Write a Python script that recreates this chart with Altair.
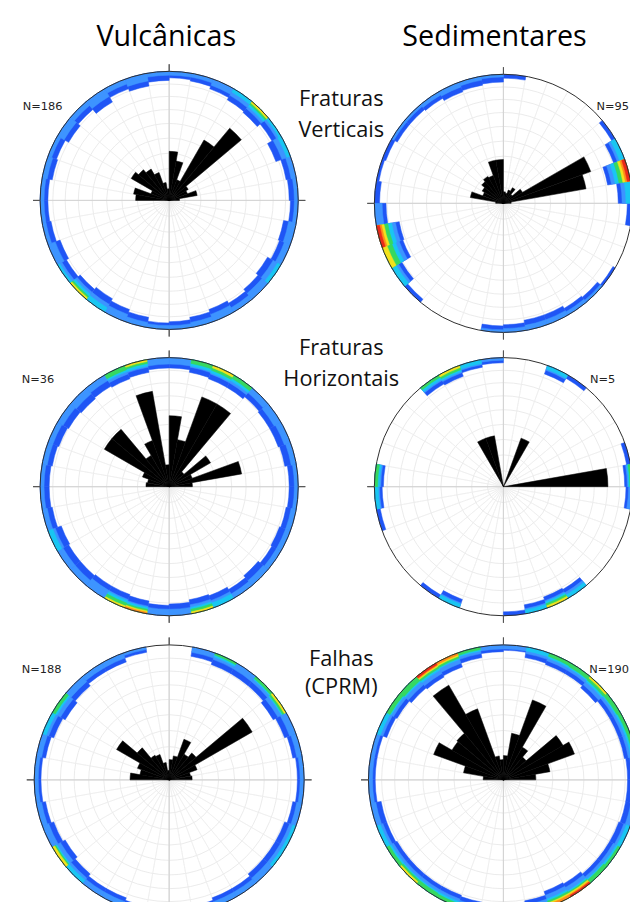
import math
import altair as alt
import pandas as pd

# ------------------------------------------------------------------
# Data
# ------------------------------------------------------------------
PANELS = ["vulc_fv", "sed_fv", "vulc_fh", "sed_fh", "vulc_fa", "sed_fa"]
N_LABELS = ["N=186", "N=95", "N=36", "N=5", "N=188", "N=190"]
COLUMN_TITLES = ["Vulcânicas", "Sedimentares"]
ROW_TITLES = ["Fraturas", "Verticais", "Fraturas", "Horizontais", "Falhas", "(CPRM)"]

# rose diagram: 10-degree strike bins (azimuth, clockwise from N), length in % of net radius
ROSE_BINS = [270, 280, 290, 300, 310, 320, 330, 340, 350, 0, 10, 20, 30, 40, 50, 60, 70, 80]
ROSE_VULC_FV = [26, 28, 15, 34, 31, 28, 23, 14, 9, 38, 31, 17, 54, 73, 17, 15, 22, 8]
ROSE_SED_FV = [6, 26, 17, 19, 22, 24, 23, 34, 34, 9, 8, 11, 14, 9, 17, 72, 65, 6]
ROSE_VULC_FH = [18, 17, 22, 58, 58, 28, 38, 75, 17, 55, 37, 74, 74, 15, 37, 19, 57, 18]
ROSE_SED_FH = [0, 0, 0, 0, 0, 0, 40, 40, 0, 0, 0, 40, 0, 0, 0, 0, 0, 81]
ROSE_VULC_FA = [29, 22, 25, 45, 31, 21, 20, 13, 7, 15, 18, 32, 22, 26, 71, 22, 16, 17]
ROSE_SED_FA = [15, 30, 55, 44, 45, 81, 56, 18, 15, 18, 35, 63, 28, 22, 51, 56, 35, 24]

# pole-density contours at the primitive: 10-degree azimuth bins, band depth in % of radius
RIM_BINS = [0, 10, 20, 30, 40, 50, 60, 70, 80, 90, 100, 110, 120, 130, 140, 150, 160, 170,
            180, 190, 200, 210, 220, 230, 240, 250, 260, 270, 280, 290, 300, 310, 320, 330, 340, 350]
BLUE_VULC_FV = [5, 6, 8, 10, 11, 8, 12, 8, 7, 6, 10, 9, 12, 10, 8, 10, 8, 6, 5, 8, 10, 12, 10, 8, 10, 7, 6, 6, 8, 7, 10, 8, 12, 8, 10, 7]
LIGHT_VULC_FV = [3, 3, 5, 6, 7, 4, 7, 4, 3, 3, 6, 5, 7, 6, 4, 6, 4, 3, 3, 4, 6, 7, 7, 4, 6, 3, 3, 3, 4, 3, 6, 4, 7, 4, 6, 3]
BLUE_SED_FV = [3, 0, 0, 0, 0, 3, 9, 18, 11, 4, 0, 0, 2, 5, 6, 8, 8, 6, 5, 0, 0, 0, 3, 9, 17, 18, 9, 4, 2, 3, 5, 5, 6, 8, 7, 6]
LIGHT_SED_FV = [0, 0, 0, 0, 0, 0, 6, 15, 8, 0, 0, 0, 0, 2, 3, 4, 4, 3, 2, 0, 0, 0, 0, 6, 14, 15, 6, 0, 0, 0, 2, 2, 3, 4, 3, 2]
BLUE_VULC_FH = [8, 10, 11, 11, 9, 10, 10, 9, 7, 7, 8, 9, 8, 10, 8, 10, 11, 9, 8, 10, 11, 11, 10, 10, 11, 8, 7, 7, 8, 9, 10, 11, 10, 11, 10, 8]
LIGHT_VULC_FH = [5, 6, 7, 7, 5, 6, 5, 4, 3, 3, 4, 4, 4, 5, 4, 6, 7, 5, 5, 6, 7, 7, 5, 5, 6, 4, 3, 3, 4, 4, 5, 6, 5, 7, 6, 5]
BLUE_SED_FH = [0, 0, 7, 3, 0, 0, 0, 3, 6, 5, 0, 0, 0, 0, 8, 9, 7, 3, 0, 0, 7, 3, 0, 0, 0, 3, 6, 7, 0, 0, 0, 0, 8, 9, 6, 4]
LIGHT_SED_FH = [0, 0, 4, 0, 0, 0, 0, 0, 4, 3, 0, 0, 0, 0, 5, 6, 4, 0, 0, 0, 4, 0, 0, 0, 0, 0, 4, 5, 0, 0, 0, 0, 5, 6, 4, 2]
BLUE_VULC_FA = [0, 7, 9, 9, 9, 11, 9, 7, 5, 5, 7, 9, 9, 9, 7, 7, 5, 0, 0, 5, 7, 7, 9, 11, 9, 7, 5, 5, 7, 9, 11, 9, 7, 7, 4, 0]
LIGHT_VULC_FA = [0, 4, 5, 5, 5, 7, 5, 4, 3, 3, 4, 5, 5, 5, 4, 4, 3, 0, 0, 3, 4, 4, 5, 7, 5, 4, 3, 3, 4, 5, 7, 5, 4, 4, 2, 0]
BLUE_SED_FA = [4, 8, 9, 9, 11, 9, 9, 9, 8, 8, 8, 9, 9, 9, 11, 12, 9, 8, 5, 8, 9, 9, 9, 9, 8, 8, 5, 5, 5, 8, 9, 11, 12, 11, 8, 5]
LIGHT_SED_FA = [3, 5, 6, 6, 8, 6, 6, 6, 5, 4, 4, 5, 6, 6, 8, 9, 6, 5, 3, 5, 6, 6, 6, 6, 5, 4, 3, 3, 3, 5, 6, 8, 9, 8, 5, 3]

# higher density levels (3 cyan ... 7 red): {level: {azimuth bin: depth %}}
HOT_VULC_FV = {3: {30: 3, 40: 5, 50: 2, 60: 3, 120: 3, 210: 4, 220: 5, 230: 2},
               4: {40: 3, 220: 3}, 5: {40: 1.5, 220: 1.5}}
HOT_SED_FV = {3: {60: 4, 70: 12, 80: 5, 230: 4, 240: 11, 250: 12},
              4: {70: 9, 240: 8, 250: 9}, 5: {70: 6, 240: 4, 250: 6},
              6: {70: 4, 250: 4}, 7: {70: 2.5, 250: 2.5}}
HOT_VULC_FH = {3: {10: 5, 20: 6, 30: 5, 150: 4, 160: 5, 190: 5, 200: 6, 240: 4, 330: 5, 340: 5},
               4: {10: 3, 20: 4, 30: 3, 160: 3.5, 190: 3.5, 200: 4, 330: 3.5, 340: 3},
               5: {20: 2, 160: 1.5, 190: 2.2, 200: 1.5, 340: 1.5}, 6: {190: 1.2}}
HOT_SED_FH = {3: {20: 3, 80: 3, 140: 3, 150: 5, 160: 3, 200: 3, 260: 3, 270: 4, 320: 4, 330: 5, 340: 3},
              4: {80: 2, 150: 3.5, 270: 2.5, 320: 2, 330: 3.5}, 5: {150: 1.8, 330: 1.8}}
HOT_VULC_FA = {3: {20: 3, 40: 3, 50: 4, 110: 2.5, 120: 2.5, 220: 3, 230: 4, 290: 3, 300: 4},
               4: {20: 1.5, 40: 2, 50: 3, 230: 3, 300: 2.5}, 5: {50: 1.5, 230: 2}}
HOT_SED_FA = {3: {10: 3, 20: 4, 30: 4, 40: 5, 50: 4, 60: 4, 70: 4, 80: 3, 110: 3, 120: 3.5, 130: 4,
                  140: 5, 150: 6, 160: 4, 190: 3, 200: 4, 210: 4, 220: 4, 230: 4, 240: 3, 290: 3,
                  300: 4, 310: 5, 320: 6, 330: 5, 340: 3},
              4: {20: 2.5, 30: 3, 40: 3.5, 50: 3, 60: 2.5, 70: 2.5, 120: 2, 130: 3, 140: 4, 150: 4.5,
                  160: 2.5, 200: 2.5, 210: 3, 220: 3, 230: 2.5, 300: 3, 310: 4, 320: 4.5, 330: 4, 340: 2},
              5: {40: 1.5, 140: 3, 150: 3, 220: 1.5, 320: 3, 330: 2.5},
              6: {140: 2, 150: 2, 320: 2.2, 330: 1.5}, 7: {140: 1.2, 320: 1.5}}

ROSE = dict(zip(PANELS, [ROSE_VULC_FV, ROSE_SED_FV, ROSE_VULC_FH, ROSE_SED_FH, ROSE_VULC_FA, ROSE_SED_FA]))
BLUE = dict(zip(PANELS, [BLUE_VULC_FV, BLUE_SED_FV, BLUE_VULC_FH, BLUE_SED_FH, BLUE_VULC_FA, BLUE_SED_FA]))
LIGHT = dict(zip(PANELS, [LIGHT_VULC_FV, LIGHT_SED_FV, LIGHT_VULC_FH, LIGHT_SED_FH, LIGHT_VULC_FA, LIGHT_SED_FA]))
HOT = dict(zip(PANELS, [HOT_VULC_FV, HOT_SED_FV, HOT_VULC_FH, HOT_SED_FH, HOT_VULC_FA, HOT_SED_FA]))

# ------------------------------------------------------------------
# Layout / style (page pixel space; the page has an 8px margin)
# ------------------------------------------------------------------
W, H = 629, 899
M = 8
PANEL_POS = {
    "vulc_fv": (171, 197.5, "top"), "sed_fv": (509, 200.5, "top"),
    "vulc_fh": (171, 487, "top"), "sed_fh": (509, 487, "top"),
    "vulc_fa": (171, 783.5, "bottom"), "sed_fa": (509, 783.5, "bottom"),
}
RADIUS_PX = {"top": 130.5, "bottom": 136.5}
GRID_RADII = [12.3, 24.6, 36.6, 48.3, 59.6, 70.4, 80.6, 90.2]
GRID_SPOKES = list(range(0, 360, 10))
CARDINALS = [0, 90, 180, 270]
LEVELS = [1, 2, 3, 4, 5, 6, 7]
LEVEL_COLORS = ["#1f55f5", "#3d94ff", "#19c6f2", "#36d860", "#f2e21c", "#ff8c1a", "#ea2a1a"]

XS = alt.Scale(domain=[M, M + W], nice=False, zero=False)
YS = alt.Scale(domain=[M, M + H], reverse=True, nice=False, zero=False)
TS = alt.Scale(type="linear", domain=[0, 360], range=[0, 2 * math.pi], nice=False, zero=False)
FS = alt.Scale(domain=LEVELS, range=LEVEL_COLORS)


def base_row(p):
    cx, cy, g = PANEL_POS[p]
    return dict(panel=p, cx=cx, cy=cy, grp=g)


petal_rows, band_rows, circ_rows, spoke_rows, axis_rows, ring_rows, tick_rows = [], [], [], [], [], [], []
for p in PANELS:
    b0 = base_row(p)
    for b, L in zip(ROSE_BINS, ROSE[p]):
        if L > 0:
            petal_rows.append({**b0, "t0": b, "t1": b + 10, "r": L, "r2": 0})
    for b, t in zip(RIM_BINS, BLUE[p]):
        if t > 0:
            band_rows.append({**b0, "level": 1, "t0": b, "t1": b + 10, "r": 100, "r2": 100 - t})
    for b, t in zip(RIM_BINS, LIGHT[p]):
        if t > 0:
            band_rows.append({**b0, "level": 2, "t0": b, "t1": b + 10, "r": 100, "r2": 100 - t})
    for lev in sorted(HOT[p]):
        for b, t in HOT[p][lev].items():
            band_rows.append({**b0, "level": lev, "t0": b, "t1": b + 10, "r": 100, "r2": 100 - t})
    for r in GRID_RADII:
        circ_rows.append({**b0, "t0": 0, "t1": 360, "r": r})
    for a in GRID_SPOKES:
        spoke_rows.append({**b0, "t0": a, "t1": a, "r": 100})
    for a in CARDINALS:
        axis_rows.append({**b0, "t0": a, "t1": a, "r": 100})
        tick_rows.append({**b0, "t0": a, "t1": a, "r": 105.5, "r2": 100})
    ring_rows.append({**b0, "t0": 0, "t1": 360, "r": 100})

petals = pd.DataFrame(petal_rows)
bands = pd.DataFrame(band_rows).sort_values("level", kind="stable")
circles = pd.DataFrame(circ_rows)
spokes = pd.DataFrame(spoke_rows)
axes_df = pd.DataFrame(axis_rows)
rings = pd.DataFrame(ring_rows)
ticks = pd.DataFrame(tick_rows)


def xy():
    return dict(x=alt.X("cx:Q", scale=XS, axis=None), y=alt.Y("cy:Q", scale=YS, axis=None))


def polar(rs, inner=False):
    d = dict(theta=alt.Theta("t0:Q", scale=TS, stack=False), theta2=alt.Theta2("t1"),
             radius=alt.Radius("r:Q", scale=rs, stack=False))
    if inner:
        d["radius2"] = alt.Radius2("r2")
    return d


def group_layers(g):
    rs = alt.Scale(type="linear", domain=[0, 100], range=[0, RADIUS_PX[g]], nice=False, zero=False)
    sel = lambda df: df[df["grp"] == g]
    l_circ = alt.Chart(sel(circles)).mark_arc(filled=False, stroke="#e6e6e6", strokeWidth=0.8, clip=True).encode(**xy(), **polar(rs))
    l_spk = alt.Chart(sel(spokes)).mark_arc(filled=False, stroke="#ececec", strokeWidth=0.6, clip=True).encode(**xy(), **polar(rs))
    l_axis = alt.Chart(sel(axes_df)).mark_arc(filled=False, stroke="#d2d2d2", strokeWidth=0.8, clip=True).encode(**xy(), **polar(rs))
    l_band = alt.Chart(sel(bands)).mark_arc(strokeWidth=0.5, clip=True).encode(
        **xy(), **polar(rs, True),
        fill=alt.Fill("level:N", scale=FS, legend=None),
        stroke=alt.Stroke("level:N", scale=FS, legend=None))
    l_ring = alt.Chart(sel(rings)).mark_arc(filled=False, stroke="#2e2e2e", strokeWidth=1, clip=True).encode(**xy(), **polar(rs))
    l_tick = alt.Chart(sel(ticks)).mark_arc(filled=False, stroke="#555555", strokeWidth=1, clip=True).encode(**xy(), **polar(rs, True))
    l_pet = alt.Chart(sel(petals)).mark_arc(fill="black", stroke="black", strokeWidth=0.5, clip=True).encode(**xy(), **polar(rs, True))
    return alt.layer(l_circ, l_spk, l_axis, l_band, l_ring, l_tick, l_pet)


top = group_layers("top")
bottom = group_layers("bottom")

title_df = pd.DataFrame({"label": COLUMN_TITLES, "px": [168, 500], "py": [41, 41]})
row_df = pd.DataFrame({"label": ROW_TITLES, "px": [345] * 6, "py": [102, 133, 354, 385, 668, 697]})
n_left = pd.DataFrame({"label": [N_LABELS[0], N_LABELS[2], N_LABELS[4]], "px": [23, 22, 22], "py": [106, 382, 675]})
n_right = pd.DataFrame({"label": [N_LABELS[1], N_LABELS[3], N_LABELS[5]], "px": [636, 622, 636], "py": [106, 382, 675]})


def txt_enc():
    return dict(x=alt.X("px:Q", scale=XS, axis=None), y=alt.Y("py:Q", scale=YS, axis=None), text="label:N")


titles = alt.Chart(title_df).mark_text(font="Open Sans", fontSize=29, align="center", baseline="alphabetic",
                                       color="black", clip=True).encode(**txt_enc())
rows = alt.Chart(row_df).mark_text(font="Open Sans", fontSize=22, align="center", baseline="alphabetic",
                                   color="#111111", clip=True).encode(**txt_enc())
nlab_l = alt.Chart(n_left).mark_text(font="DejaVu Sans", fontSize=11.5, align="left", baseline="alphabetic",
                                     color="#222222").encode(**txt_enc())
nlab_r = alt.Chart(n_right).mark_text(font="DejaVu Sans", fontSize=11.5, align="right", baseline="alphabetic",
                                      color="#222222").encode(**txt_enc())

chart = alt.layer(top, bottom, titles, rows, nlab_l, nlab_r).resolve_scale(radius="independent").properties(
    width=W, height=H, padding=0, autosize=alt.AutoSizeParams(type="none")
).configure_view(strokeWidth=0)

chart.save("out.html", embed_options={"renderer": "svg", "actions": False})
